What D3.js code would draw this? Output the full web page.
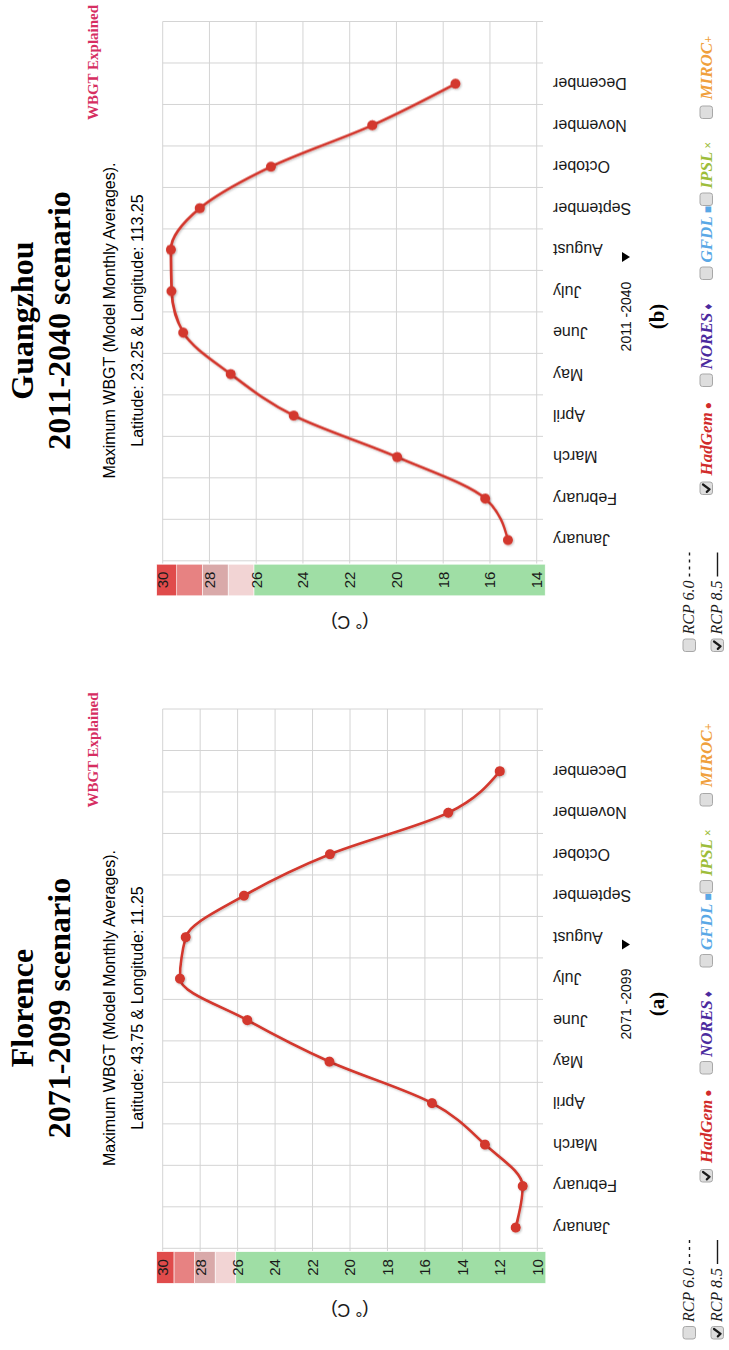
<!DOCTYPE html>
<html>
<head>
<meta charset="utf-8">
<script src="https://cdn.jsdelivr.net/npm/d3@7"></script>
<style>
  html, body { margin: 0; padding: 0; background: #ffffff; }
  svg { display: block; }
</style>
</head>
<body>
<script>
// ---- data ----
const months = ["January", "February", "March", "April", "May", "June",
                "July", "August", "September", "October", "November", "December"];

const florenceWBGT  = [11.15, 10.78, 12.79, 15.62, 21.1, 25.48, 29.08, 28.77, 25.66, 21.07, 14.75, 12.0];
const guangzhouWBGT = [15.23, 16.2, 19.97, 24.39, 27.09, 29.12, 29.62, 29.65, 28.41, 25.37, 21.03, 17.47];

const florenceTicks  = [10, 12, 14, 16, 18, 20, 22, 24, 26, 28, 30];
const guangzhouTicks = [14, 16, 18, 20, 22, 24, 26, 28, 30];

// WBGT risk bands on the value axis (lower bounds, °C)
const bandLimits = [26.1, 27.2, 28.3, 29.4];
const bandColors = ["#9fdea5", "#f2d4d4", "#d9a9a9", "#e78282", "#e04b4b"];

const modelNames   = ["HadGem", "NORES", "GFDL", "IPSL", "MIROC"];
const modelSymbols = [" \u25CF", " \u2666", " \u25A0", " \u00D7", "+"];
const modelColors  = ["#d12b2b", "#4b2a9e", "#5aa8e6", "#9dbd3a", "#f0a03c"];
const modelChecked = [true, false, false, false, false];

const scenarioNames   = ["RCP 6.0", "RCP 8.5"];
const scenarioChecked = [false, true];

const panels = [
  { city: "Florence",  period: "2071-2099", select: "2071 -2099", tag: "(a)",
    coords: "Latitude: 43.75 & Longitude: 11.25",
    values: florenceWBGT, ticks: florenceTicks, domain: [10, 30], offset: 0 },
  { city: "Guangzhou", period: "2011-2040", select: "2011 -2040", tag: "(b)",
    coords: "Latitude: 23.25 & Longitude: 113.25",
    values: guangzhouWBGT, ticks: guangzhouTicks, domain: [14, 30], offset: 687.5 }
];

// ---- drawing ----
const W = 729, H = 1350;
const SANS = "'Liberation Sans', Arial, sans-serif";
const SERIF = "'Liberation Serif', 'Times New Roman', serif";

const svg = d3.select("body").append("svg")
  .attr("width", W).attr("height", H)
  .attr("viewBox", `0 0 ${W} ${H}`);

const defs = svg.append("defs");
const shadow = defs.append("filter").attr("id", "soft-shadow")
  .attr("x", "-20%").attr("y", "-20%").attr("width", "140%").attr("height", "140%");
shadow.append("feDropShadow")
  .attr("dx", -1).attr("dy", 1).attr("stdDeviation", 1)
  .attr("flood-color", "#000").attr("flood-opacity", 0.25);

// the page is laid out landscape and turned a quarter turn
const root = svg.append("g").attr("transform", `translate(0,${H}) rotate(-90)`);

const plot = { left: 101.7, right: 641, top: 162.7 };

panels.forEach(p => {
  const g = root.append("g").attr("transform", `translate(${p.offset},0)`);

  const x = d3.scaleLinear().domain([-0.5, 12.5]).range([plot.left, plot.right]);
  const y = d3.scaleLinear().domain(p.domain).range([p.domain[0] === 10 ? 537.3 : 536.7, plot.top]);

  // value band
  const bandX = 66.7, bandW = 31.6;
  const bandTop = y(p.domain[1]) - 6, bandBottom = y(p.domain[0]) + 8.5;
  const edges = [bandBottom, ...bandLimits.map(v => y(v)), bandTop];
  g.append("g").selectAll("rect").data(bandColors).join("rect")
    .attr("x", bandX).attr("width", bandW)
    .attr("y", (d, i) => edges[i + 1])
    .attr("height", (d, i) => edges[i] - edges[i + 1])
    .attr("fill", d => d)
    .attr("stroke", "#ffffff").attr("stroke-width", 0.6);

  // grid
  const grid = g.append("g").attr("stroke", "#d4d4d4").attr("stroke-width", 1).attr("fill", "none");
  grid.selectAll("line.h").data(p.ticks).join("line").attr("class", "h")
    .attr("x1", 99).attr("x2", plot.right)
    .attr("y1", d => y(d)).attr("y2", d => y(d));
  grid.selectAll("line.v").data(d3.range(-0.5, 12.6, 1)).join("line").attr("class", "v")
    .attr("x1", d => x(d)).attr("x2", d => x(d))
    .attr("y1", plot.top).attr("y2", 543);

  // value tick labels inside the band
  g.append("g").selectAll("text").data(p.ticks).join("text")
    .attr("x", bandX + bandW / 2).attr("y", d => y(d))
    .attr("dy", "0.36em").attr("text-anchor", "middle")
    .attr("font-family", SANS).attr("font-size", 15).attr("fill", "#1a1a1a")
    .text(d => d);

  g.append("text")
    .attr("transform", `translate(40,${(plot.top + 537) / 2}) rotate(-90)`)
    .attr("dy", "0.35em").attr("text-anchor", "middle")
    .attr("font-family", SANS).attr("font-size", 18).attr("fill", "#1a1a1a")
    .text("(\u00B0 C)");

  // month labels
  g.append("g").selectAll("text").data(months).join("text")
    .attr("transform", (d, i) => `translate(${x(i)},553) rotate(-90)`)
    .attr("dy", "0.35em").attr("text-anchor", "end")
    .attr("font-family", SANS).attr("font-size", 16).attr("fill", "#1a1a1a")
    .text(d => d);

  // series
  const line = d3.line().x((d, i) => x(i)).y(d => y(d)).curve(d3.curveMonotoneX);
  g.append("path").datum(p.values)
    .attr("d", line).attr("fill", "none")
    .attr("stroke", "#d3382e").attr("stroke-width", 2.6)
    .attr("filter", "url(#soft-shadow)");
  g.append("g").selectAll("circle").data(p.values).join("circle")
    .attr("cx", (d, i) => x(i)).attr("cy", d => y(d)).attr("r", 5)
    .attr("fill", "#d3382e")
    .attr("filter", "url(#soft-shadow)");

  // headings
  const cx = 342;
  const heading = g.append("g").attr("text-anchor", "middle").attr("fill", "#000");
  heading.append("text").attr("x", cx).attr("y", 33)
    .attr("font-family", SERIF).attr("font-weight", "bold").attr("font-size", 32)
    .text(p.city);
  heading.append("text").attr("x", cx).attr("y", 70)
    .attr("font-family", SERIF).attr("font-weight", "bold").attr("font-size", 32)
    .text(`${p.period} scenario`);
  heading.append("text").attr("x", cx).attr("y", 115)
    .attr("font-family", SANS).attr("font-size", 16)
    .text("Maximum WBGT (Model Monthly Averages).");
  heading.append("text").attr("x", cx).attr("y", 143)
    .attr("font-family", SANS).attr("font-size", 16)
    .text(p.coords);
  g.append("text").attr("x", 600).attr("y", 98).attr("text-anchor", "middle")
    .attr("font-family", SERIF).attr("font-weight", "bold").attr("font-size", 15)
    .attr("fill", "#d62e62").text("WBGT Explained");

  // period selector
  g.append("text").attr("x", 346).attr("y", 631).attr("text-anchor", "middle")
    .attr("font-family", SANS).attr("font-size", 14).attr("fill", "#111")
    .text(p.select);
  g.append("path")
    .attr("d", d3.line()([[400.5, 622], [410.5, 622], [405.5, 630]]) + "Z")
    .attr("fill", "#000");
  g.append("text").attr("x", 346).attr("y", 664).attr("text-anchor", "middle")
    .attr("font-family", SERIF).attr("font-weight", "bold").attr("font-size", 21)
    .attr("fill", "#000").text(p.tag);

  // legend
  const checkbox = (parent, bx, by, checked) => {
    parent.append("rect").attr("x", bx).attr("y", by).attr("width", 12.5).attr("height", 12.5)
      .attr("rx", 2.5).attr("fill", "#dedede").attr("stroke", "#a8a8a8").attr("stroke-width", 1);
    if (checked) {
      parent.append("path")
        .attr("d", `M${bx + 2.6},${by + 6.8} L${bx + 5.2},${by + 9.6} L${bx + 10},${by + 3}`)
        .attr("fill", "none").attr("stroke", "#1a1a1a").attr("stroke-width", 2.2)
        .attr("stroke-linecap", "round").attr("stroke-linejoin", "round");
    }
  };

  const legend = g.append("g");
  const scenRows = [683, 711];
  scenarioNames.forEach((name, i) => {
    checkbox(legend, 11, scenRows[i], scenarioChecked[i]);
    legend.append("text").attr("x", 28).attr("y", scenRows[i] + 11)
      .attr("font-family", SERIF).attr("font-style", "italic").attr("font-size", 16)
      .attr("fill", "#1a1a1a").text(name);
    legend.append("line")
      .attr("x1", 86).attr("x2", 110)
      .attr("y1", scenRows[i] + 6.5).attr("y2", scenRows[i] + 6.5)
      .attr("stroke", "#1a1a1a").attr("stroke-width", 1.4)
      .attr("stroke-dasharray", i === 0 ? "3,4" : null);
  });

  const boxX = [168, 276, 383, 457, 544];
  const textX = [187, 293, 400, 474, 563];
  modelNames.forEach((name, i) => {
    checkbox(legend, boxX[i], 700, modelChecked[i]);
    const t = legend.append("text").attr("x", textX[i]).attr("y", 711.5)
      .attr("font-family", SERIF).attr("font-style", "italic").attr("font-weight", "bold")
      .attr("font-size", 17).attr("fill", modelColors[i]);
    t.append("tspan").text(name);
    t.append("tspan").attr("font-style", "normal").attr("font-size", 12).text(modelSymbols[i]);
  });
});
</script>
</body>
</html>
